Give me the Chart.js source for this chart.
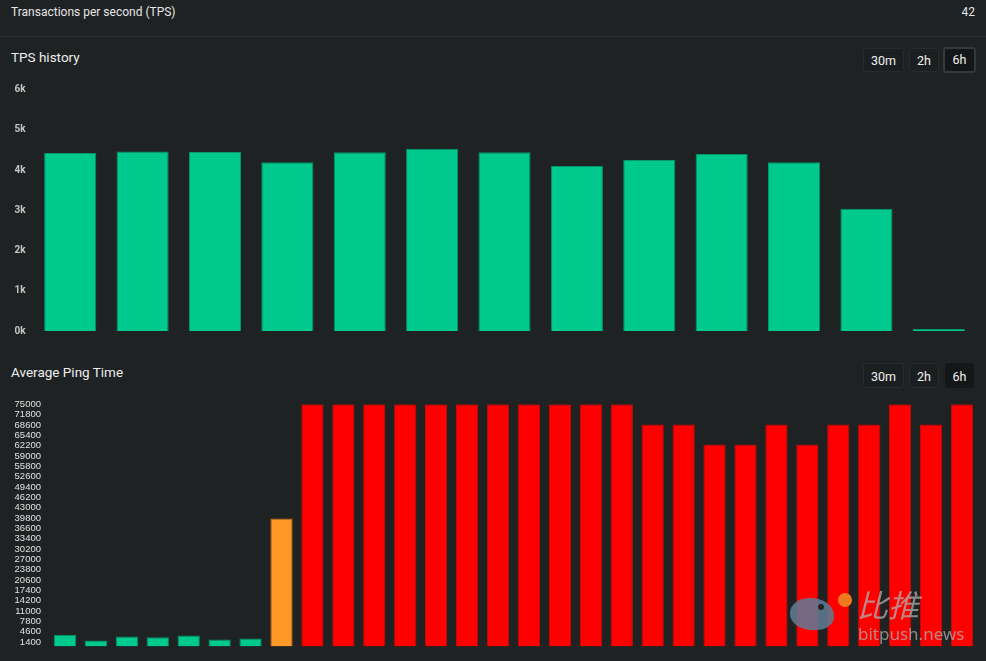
<!DOCTYPE html>
<html>
<head>
<meta charset="utf-8">
<script src="https://cdn.jsdelivr.net/npm/chart.js@4"></script>
<style>
  html, body { margin:0; padding:0; background:#1e2223; width:986px; height:661px; overflow:hidden; font-family: Roboto, "Noto Sans", sans-serif; }
  .abs { position:absolute; }
  .hdr { left:11px; top:4px; font-size:12px; color:#e6e6e6; line-height:16px; }
  .hdrv { right:11px; top:4px; font-size:12px; color:#e6e6e6; line-height:16px; }
  .sep { left:0; top:36px; width:986px; height:1px; background:#2a2f31; }
  .title { left:11px; font-size:13.5px; color:#eeeeee; font-weight:400; z-index:2; }
  .btn { height:24px; line-height:24px; text-align:center; font-size:12.5px; color:#f0f0f0; background:#1b1f20; border:1px solid #262b2d; border-radius:3px; box-sizing:border-box; font-weight:400; z-index:2; }
  .btn.on { background:#141718; border:2px solid #34393b; }
  .btn.on2 { background:#141718; border:1px solid #141718; }
  canvas { display:block; }
  .wm1 { left:857px; top:586px; font-size:31px; color:rgba(175,175,175,0.75); font-family:"Noto Sans CJK SC", sans-serif; font-style:italic; line-height:36px; }
  .wm2 { left:858px; top:624px; font-size:17px; color:rgba(175,175,175,0.75); font-family:"Noto Sans", sans-serif; line-height:20px; }
</style>
</head>
<body>
<div class="abs hdr">Transactions per second (TPS)</div>
<div class="abs hdrv">42</div>
<div class="abs sep"></div>

<div class="abs" style="left:0; top:75px; width:986px; height:273px;"><canvas id="tps" width="986" height="273"></canvas></div>
<div class="abs" style="left:0; top:390px; width:986px; height:271px;"><canvas id="ping" width="986" height="271"></canvas></div>

<div class="abs title" style="top:49px;">TPS history</div>
<div class="abs btn" style="left:863px; top:48px; width:41px;">30m</div>
<div class="abs btn" style="left:909px; top:48px; width:30px;">2h</div>
<div class="abs btn on" style="left:943px; top:47px; width:33px; height:26px; line-height:22px;">6h</div>

<div class="abs title" style="top:364px;">Average Ping Time</div>
<div class="abs btn" style="left:863px; top:363px; width:41px; height:25px; line-height:25px;">30m</div>
<div class="abs btn" style="left:909px; top:363px; width:30px; height:25px; line-height:25px;">2h</div>
<div class="abs btn on2" style="left:945px; top:363px; width:29px; height:25px; line-height:25px;">6h</div>

<!-- watermark -->
<div class="abs" style="left:790px; top:598px; width:44px; height:32px; border-radius:50% 60% 45% 55%; background:rgba(95,125,150,0.85);"></div>
<div class="abs" style="left:818px; top:604px; width:6px; height:6px; border-radius:50%; background:#222;"></div>
<div class="abs" style="left:838px; top:593px; width:14px; height:14px; border-radius:50%; background:#f07a20;"></div>
<div class="abs wm1">比推</div>
<div class="abs wm2">bitpush.news</div>

<script>
// ---- data ----
const tpsCategories = ["1","2","3","4","5","6","7","8","9","10","11","12","13"];
const tpsValues = [4420, 4460, 4450, 4190, 4440, 4530, 4440, 4100, 4250, 4400, 4190, 3040, 50];
const tpsTickValues = [0, 1000, 2000, 3000, 4000, 5000, 6000];

const pingCategories = ["1","2","3","4","5","6","7","8","9","10","11","12","13","14","15","16","17","18","19","20","21","22","23","24","25","26","27","28","29","30"];
const pingValues = [3630, 1860, 3100, 2890, 3420, 2170, 2480, 39600,
  75000, 75000, 75000, 75000, 75000, 75000, 75000, 75000, 75000, 75000, 75000,
  68700, 68700, 62500, 62500, 68700, 62500, 68700, 68700, 75000, 68700, 75000];
const pingTickValues = [1400, 4600, 7800, 11000, 14200, 17400, 20600, 23800, 27000, 30200, 33400, 36600, 39800, 43000, 46200, 49400, 52600, 55800, 59000, 62200, 65400, 68600, 71800, 75000];

// ---- styles ----
const GREEN = 'rgb(0,201,141)', GREEN_B = 'rgb(0,150,108)';
const RED = 'rgb(255,0,0)', RED_B = 'rgb(200,10,10)';
const ORANGE = 'rgb(255,152,38)', ORANGE_B = 'rgb(200,110,20)';

function pingColor(v){ return v < 10000 ? GREEN : (v < 50000 ? ORANGE : RED); }
function pingBorder(v){ return v < 10000 ? GREEN_B : (v < 50000 ? ORANGE_B : RED_B); }

Chart.defaults.animation = false;

new Chart(document.getElementById('tps'), {
  type: 'bar',
  data: { labels: tpsCategories, datasets: [{ data: tpsValues, backgroundColor: GREEN, borderColor: GREEN_B, borderWidth: 1 }] },
  options: {
    responsive: false, maintainAspectRatio: false,
    layout: { padding: { top: 14, bottom: 17, left: 0, right: 11 } },
    plugins: { legend: { display: false }, tooltip: { enabled: false } },
    scales: {
      x: { display: false },
      y: {
        min: 0, max: 6000,
        grid: { display: false, drawTicks: false }, border: { display: false },
        afterFit: s => { s.width = 34; },
        afterBuildTicks: s => { s.ticks = tpsTickValues.map(v => ({ value: v })); },
        ticks: { color: '#c4c4c4', padding: 8.5, font: { family: 'Roboto', size: 10, weight: 'bold' },
                 callback: v => (v / 1000) + 'k' }
      }
    }
  }
});

new Chart(document.getElementById('ping'), {
  type: 'bar',
  data: { labels: pingCategories, datasets: [{ data: pingValues,
    backgroundColor: pingValues.map(pingColor), borderColor: pingValues.map(pingBorder), borderWidth: 1 }] },
  options: {
    responsive: false, maintainAspectRatio: false,
    layout: { padding: { top: 14, bottom: 14.5, left: 0, right: 8.5 } },
    plugins: { legend: { display: false }, tooltip: { enabled: false } },
    scales: {
      x: { display: false },
      y: {
        min: 0, max: 75000,
        grid: { display: false, drawTicks: false }, border: { display: false },
        afterFit: s => { s.width = 49.5; },
        afterBuildTicks: s => { s.ticks = pingTickValues.map(v => ({ value: v })); },
        ticks: { color: '#e0e0e0', padding: 8.5, autoSkip: false, font: { family: '"Liberation Sans", Arial', size: 9.5 },
                 callback: v => String(v) }
      }
    }
  }
});
</script>
</body>
</html>
